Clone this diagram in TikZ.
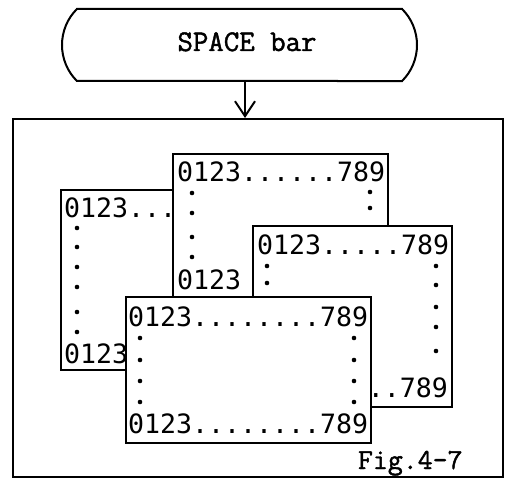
\documentclass[tikz,border=0pt]{standalone}
\usepackage{fontspec}
\usepackage{tikz}
\usetikzlibrary{positioning}
\usetikzlibrary{arrows.meta}
\usetikzlibrary{shapes.misc}
\newfontfamily\screenfont{DejaVu Sans Mono}
\newfontfamily\typefont{Latin Modern Mono}[FakeBold=1.5]

\begin{document}
\begin{tikzpicture}[x=1pt,y=-1pt,line width=2pt,
    terminal/.style={draw, rounded rectangle, rounded rectangle arc length=90,
        minimum width=355pt, minimum height=72pt, inner sep=0pt},
    window/.style={draw, fill=white},
    row/.style={inner sep=0pt, anchor=base west, font=\screenfont\fontsize{26.6}{30}\selectfont},
    typed/.style={inner sep=0pt, anchor=base, font=\typefont\fontsize{30}{34}\selectfont}]
        \useasboundingbox (0,0) rectangle (509,478);

        % The key and the screen
        \node[terminal] (spacebar) at (239.5,45) {};
        \node[typed] (spacetext) at (247,51) {SPACE bar};
        \node[draw, anchor=north west, minimum width=490pt, minimum height=358pt,
            inner sep=0pt] (screen) at (12,118) {};
        \coordinate (arrowtop) at (245,81);
        \draw[-{Straight Barb[length=15pt,width=20pt]}] (arrowtop) -- (arrowtop |- screen.north);

        % Define the corners of the windows
        \coordinate (b1) at (61,190);
        \coordinate (b2) at (240,370);
        \coordinate (a1) at (173,154);
        \coordinate (a2) at (388,300);
        \coordinate (c1) at (253,226);
        \coordinate (c2) at (452,407);
        \coordinate (d1) at (126,297);
        \coordinate (d2) at (371,443);

        % Window on the left
        \draw[window] (b1) rectangle (b2);
        \node[row] (btop) at (63,218) {0123...};
        \node[row] (bbot) at (63,363) {0123};
        \foreach \y in {228,247,267,287,312,332}
        \fill (77,\y) circle (2.3pt);

        % Window at the back
        \draw[window] (a1) rectangle (a2);
        \node[row] (atop) at (176,182) {0123......789};
        \node[row] (abot) at (176,290) {0123};
        \foreach \y in {193,213,237,257}
        \fill (192,\y) circle (2.3pt);
        \foreach \y in {192,208}
        \fill (370,\y) circle (2.3pt);

        % Window on the right
        \draw[window] (c1) rectangle (c2);
        \node[row] (ctop) at (256,255) {0123.....789};
        \node[row, anchor=base east] (cbot) at (449,398) {..789};
        \foreach \y in {266,283}
        \fill (267,\y) circle (2.3pt);
        \foreach \y in {266,285,307,327,351}
        \fill (436,\y) circle (2.3pt);

        % Window in front
        \draw[window] (d1) rectangle (d2);
        \node[row] (dtop) at (127,327) {0123........789};
        \node[row] (dbot) at (127,433) {0123........789};
        \foreach \x in {140,354}
        \foreach \y in {338,360,381,402}
        \fill (\x,\y) circle (2.3pt);

        \node[typed, anchor=base west, font=\typefont\fontsize{29}{32}\selectfont] (caption) at (357,469) {Fig.4-7};
      \end{tikzpicture}
\end{document}
